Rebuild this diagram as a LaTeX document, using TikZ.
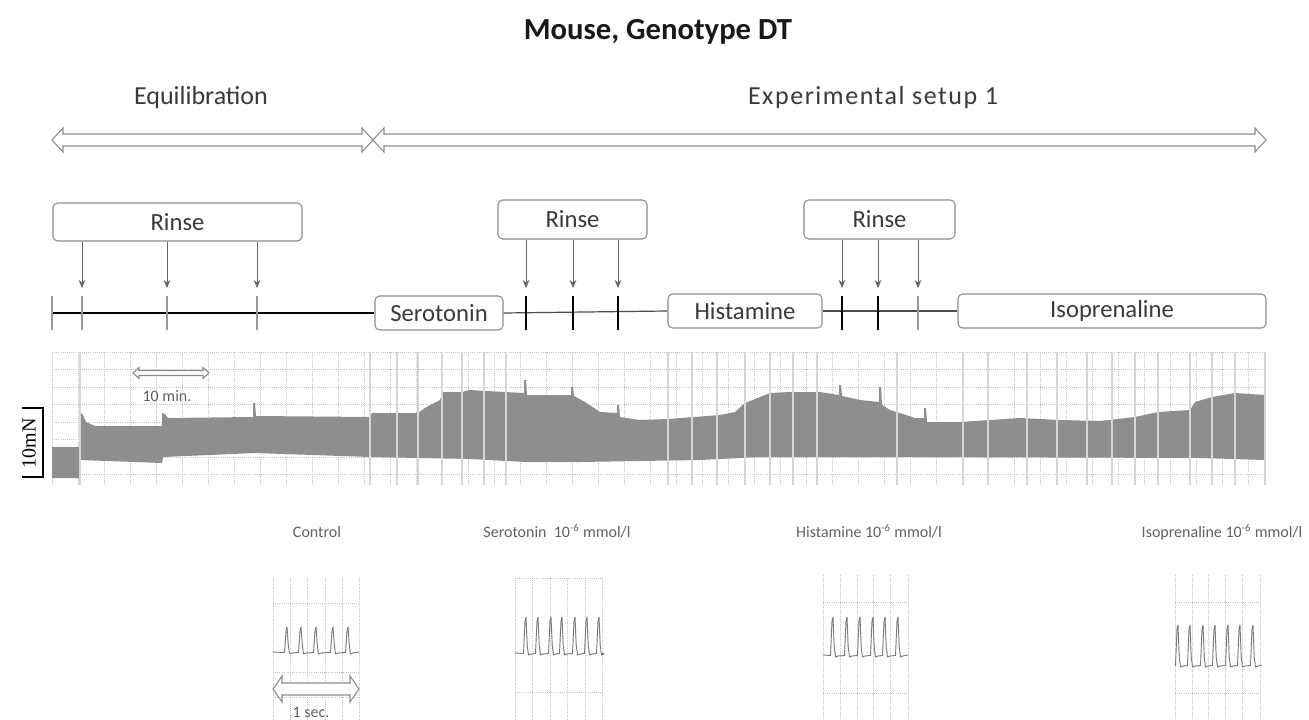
\documentclass[tikz,border=0pt]{standalone}
\usepackage{fontspec}
\setmainfont{Carlito}
\newfontfamily\timesfont{Liberation Serif}
\usetikzlibrary{arrows.meta}

\definecolor{txt}{HTML}{3A3A3A}
\definecolor{frame}{HTML}{8C8C8C}
\definecolor{tracefill}{HTML}{8E8E8E}
\definecolor{gridc}{HTML}{C4C4C4}
\definecolor{markc}{HTML}{D6D6D6}
\definecolor{tickc}{HTML}{9A9A9A}
\definecolor{pulsec}{HTML}{7A7A7A}

\tikzset{
  box/.style={draw=frame, line width=0.8pt, rounded corners=3.5pt, fill=white,
    inner sep=0pt, text=txt, font=\fontsize{18.5}{21}\selectfont},
  hdr/.style={text=txt, font=\fontsize{19.5}{22}\selectfont},
  smalllbl/.style={text=txt!80, font=\fontsize{12}{14}\selectfont},
  hollow/.style={draw=frame, line width=0.8pt, fill=white, line join=miter},
  rinsearrow/.style={draw=gray!80!black, line width=0.6pt, -{Stealth[length=6pt,width=5pt]}},
  tline/.style={draw=black, line width=0.9pt},
  tickg/.style={draw=tickc, line width=2.2pt},
  tickb/.style={draw=black, line width=0.9pt},
  gridln/.style={draw=gridc, line width=0.6pt, densely dotted},
  evmark/.style={draw=markc, line width=1.3pt},
  pulse/.style={draw=pulsec, line width=0.7pt, line join=round},
}

% hollow double-headed block arrow: left x, right x, mid y, shaft half, head half, head length
\newcommand\dblblock[6]{%
  \draw[hollow] (#1,#3) -- ({#1+#6},{#3-#5}) -- ({#1+#6},{#3-#4}) -- ({#2-#6},{#3-#4})
    -- ({#2-#6},{#3-#5}) -- (#2,#3) -- ({#2-#6},{#3+#5}) -- ({#2-#6},{#3+#4})
    -- ({#1+#6},{#3+#4}) -- ({#1+#6},{#3+#5}) -- cycle;}

% train of contraction spikes: start x, end x, baseline y, peak y, list of peak x
\newcommand\spiketrain[5]{%
  \draw[pulse] (#1,#3) foreach \p in {#5} {
    -- ({\p-2.5},{#3+0.5}) -- ({\p-1},{#4+4}) -- (\p,#4) -- ({\p+1.2},{#3-8})
    -- ({\p+2.5},{#3+2}) -- ({\p+5},{#3+1}) } -- (#2,#3);}

\begin{document}
\begin{tikzpicture}[x=0.75pt, y=-0.75pt]
\useasboundingbox[fill=white] (0,0) rectangle (1309,720);

% ---------- headings ----------
\node[text=black!90, font=\bfseries\fontsize{23}{26}\selectfont] (title) at (658,32) {Mouse, Genotype DT};
\node[hdr] (equi) at (201,98) {Equilibration};
\node[hdr] (exps) at (873,98) {\addfontfeature{LetterSpace=6}Experimental setup 1};

\dblblock{52}{373}{140}{6}{12}{11}
\dblblock{373}{1266}{140}{6}{12}{11}

% ---------- protocol boxes ----------
\node[box, minimum width=186.75pt, minimum height=28.5pt] (rinse1) at (177.5,222) {Rinse};
\node[box, minimum width=111.75pt, minimum height=29.25pt] (rinse2) at (572.5,219.5) {Rinse};
\node[box, minimum width=113.25pt, minimum height=29.25pt] (rinse3) at (879.5,219.5) {Rinse};

\node[box, minimum width=96pt, minimum height=25.5pt] (sero) at (439,313) {Serotonin};
\node[box, minimum width=115.5pt, minimum height=25.5pt] (hist) at (745,311) {Histamine};
\node[box, minimum width=231pt, minimum height=25.5pt] (iso) at (1112,311) {Isoprenaline};

% ---------- time line ----------
\coordinate (tl0) at (52,313);
\draw[tline] (tl0) -- (sero.west);
\draw[tline, draw=black!70] (sero.east) -- (hist.west);
\draw[tline, draw=black!70] (hist.east) -- (iso.west);

\foreach \x in {52,82,167,257,918} \draw[tickg] (\x,296) -- (\x,330);
\foreach \x in {526,573,618,842,878} \draw[tickb] (\x,296) -- (\x,330);

% rinse arrows
\foreach \x/\b in {82/rinse1,167/rinse1,257/rinse1,526/rinse2,573/rinse2,618/rinse2,842/rinse3,878/rinse3,918/rinse3}{
  \coordinate (a\x) at (\x,288);
  \draw[rinsearrow] (a\x |- \b.south) -- (a\x);
}

% ---------- long recording ----------
\foreach \x in {52,78,...,1265} \draw[gridln] (\x,352) -- (\x,485);
\foreach \y in {352,369.5,...,485} \draw[gridln] (52,\y) -- (1265,\y);

\fill[tracefill] (52,447) -- (80,447) -- (80,415) -- (82,413) -- (86,422) -- (95,426)
  -- (162,426) -- (162,413) -- (165,414) -- (168,418) -- (253,417) -- (253,403)
  -- (255,403) -- (256,416) -- (370,417) -- (372,413) -- (418,413) -- (425,408)
  -- (432,404) -- (440,400) -- (443,392) -- (462,392) -- (470,390) -- (505,392)
  -- (524,393) -- (524,380) -- (526,380) -- (527,395) -- (571,395) -- (571,387)
  -- (573,387) -- (574,396) -- (585,402) -- (600,412) -- (617,413) -- (617,405)
  -- (619,405) -- (620,417) -- (640,420) -- (668,419) -- (720,415) -- (735,412)
  -- (745,403) -- (770,393) -- (790,392) -- (820,392) -- (839,395) -- (839,385)
  -- (841,385) -- (842,396) -- (860,400) -- (879,402) -- (879,387) -- (881,387)
  -- (882,405) -- (890,410) -- (900,413) -- (915,418) -- (924,418) -- (924,408)
  -- (926,408) -- (927,422) -- (960,422) -- (1020,418) -- (1060,420) -- (1100,421)
  -- (1135,417) -- (1158,412) -- (1190,410) -- (1195,402) -- (1212,397) -- (1235,393)
  -- (1265,395)
  -- (1265,460) -- (1200,458) -- (900,457) -- (760,457) -- (700,460) -- (580,462)
  -- (525,462) -- (470,459) -- (418,458) -- (370,457) -- (255,453) -- (163,457)
  -- (162,463) -- (80,460) -- (80,478) -- (52,478) -- cycle;

\foreach \x in {80,370,397,418,442,462,484,506,668,692,717,745,770,793,817,897,963,988,1027,1057,1087,1112,1135,1158,1190,1212,1235,1265}
  \draw[evmark] (\x,352) -- (\x,485);

% time scale
\dblblock{133}{209}{373}{2.5}{5.5}{6}
\node[smalllbl] (tenmin) at (167,396) {10 min.};

% force scale
\draw[black, line width=0.9pt] (22,408) -- (43,408) -- (43,477) -- (22,477);
\node[rotate=90, font=\timesfont\fontsize{15}{17}\selectfont] (force) at (29,443) {10mN};

% ---------- expanded recordings ----------
\node[smalllbl, anchor=base] (lctrl) at (317,537) {Control};
\node[smalllbl, anchor=base] (lsero) at (557,537) {Serotonin\ \ 10\textsuperscript{-6} mmol/l};
\node[smalllbl, anchor=base] (lhist) at (869,537) {Histamine 10\textsuperscript{-6} mmol/l};
\node[smalllbl, anchor=base] (liso) at (1222,537) {Isoprenaline 10\textsuperscript{-6} mmol/l};

% control
\foreach \x in {273,290,307,325,342,359} \draw[gridln] (\x,578) -- (\x,720);
\foreach \y in {603,672,697} \draw[gridln] (273,\y) -- (359,\y);
\spiketrain{273}{359}{652}{627}{287,301,316,333,348}
\dblblock{273}{359}{689}{6}{13}{9}
\node[smalllbl] (onesec) at (311,712) {1 sec.};

% serotonin
\foreach \x in {515,532,550,567,585,602} \draw[gridln] (\x,578) -- (\x,720);
\foreach \y in {578,692} \draw[gridln] (515,\y) -- (602,\y);
\spiketrain{515}{602}{653}{617}{526,538,551,562,575,587,599}

% histamine
\foreach \x in {823,840,857,873,890,908} \draw[gridln] (\x,575) -- (\x,720);
\foreach \y in {602,693} \draw[gridln] (823,\y) -- (908,\y);
\spiketrain{823}{908}{655}{617}{833,847,860,873,885,898}

% isoprenaline
\foreach \x in {1175,1192,1208,1225,1242,1260} \draw[gridln] (\x,575) -- (\x,720);
\foreach \y in {602,693} \draw[gridln] (1175,\y) -- (1260,\y);
\spiketrain{1175}{1262}{665}{625}{1178,1190,1203,1215,1228,1240,1253}
\end{tikzpicture}
\end{document}
